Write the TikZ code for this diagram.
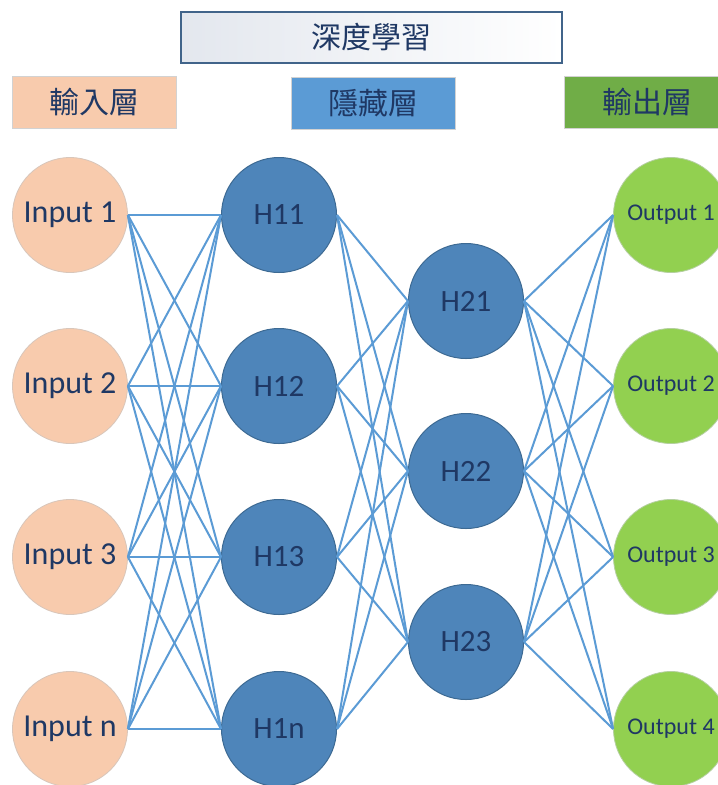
\documentclass[tikz,border=0pt]{standalone}
\usepackage{fontspec}
\setmainfont{Carlito}
\newfontfamily\cjk{Noto Sans CJK TC}
\usepackage{xcolor}
\usetikzlibrary{positioning}
\definecolor{ink}{HTML}{1F3864}
\definecolor{peach}{HTML}{F8CBAD}
\definecolor{peachline}{HTML}{D8C6BA}
\definecolor{steel}{HTML}{4E85BA}
\definecolor{steelline}{HTML}{3D6A93}
\definecolor{lime}{HTML}{92D050}
\definecolor{limeline}{HTML}{B4CFA0}
\definecolor{sky}{HTML}{5B9BD5}
\definecolor{grass}{HTML}{70AD47}
\definecolor{mist}{HTML}{E3E7EE}
\definecolor{titleline}{HTML}{41648A}
\definecolor{boxline}{HTML}{D2D2D2}
\tikzset{
  titlecard/.style={draw=titleline,line width=1.2pt,left color=mist,right color=white,
                    minimum width=381pt,minimum height=51pt,inner sep=0pt,
                    text=ink,font=\cjk\fontsize{30}{34}\selectfont},
  headcard/.style={draw=boxline,line width=0.8pt,minimum width=164pt,minimum height=52pt,
                   inner sep=0pt,text=ink,font=\cjk\fontsize{30}{34}\selectfont},
  innode/.style={circle,draw=peachline,fill=peach,line width=0.8pt,minimum size=115pt,
                 inner sep=0pt,text=ink,font=\fontsize{32}{36}\selectfont},
  hidnode/.style={circle,draw=steelline,fill=steel,line width=1pt,minimum size=115pt,
                  inner sep=0pt,text=ink,font=\fontsize{31}{36}\selectfont},
  outnode/.style={circle,draw=limeline,fill=lime,line width=0.8pt,minimum size=115pt,
                  inner sep=0pt,text=ink,font=\fontsize{24}{28}\selectfont},
  link/.style={draw=sky,line width=2pt}
}
\begin{document}
\begin{tikzpicture}[x=1pt,y=-1pt]
  \path[use as bounding box,fill=white] (0,0) rectangle (718,785);

  % headers
  \node[titlecard] (title) at (371.5,37.5) {深度學習};
  \node[headcard,fill=peach] (inhead) at (94,102) {輸入層};
  \node[headcard,fill=sky] (hidhead) at (373,103) {隱藏層};
  \node[headcard,fill=grass,minimum width=166pt] (outhead) at (647,102) {輸出層};

  % layers
  \foreach \y/\lab/\n in {215/1/1,386/2/2,557/3/3,729/n/4}{
    \node[innode] (in\n) at (70,\y) {Input \lab};
    \node[hidnode] (ha\n) at (279,\y) {H1\lab};
    \node[outnode] (out\n) at (671,\y) {Output \n};
  }
  \foreach \y/\n in {301/1,471/2,642/3}{
    \node[hidnode] (hb\n) at (466,\y) {H2\n};
  }

  % connections
  \foreach \i in {1,...,4}{
    \foreach \j in {1,...,4}{
      \draw[link] (in\i.east) -- (ha\j.west);
    }
    \foreach \j in {1,2,3}{
      \draw[link] (ha\i.east) -- (hb\j.west);
      \draw[link] (hb\j.east) -- (out\i.west);
    }
  }
\end{tikzpicture}
\end{document}
